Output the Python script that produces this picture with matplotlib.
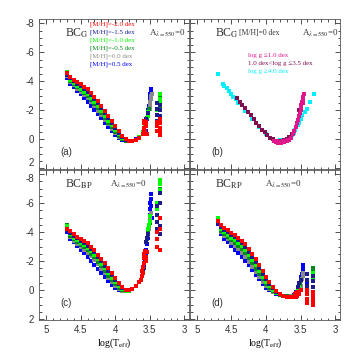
import matplotlib
matplotlib.use("Agg")
import matplotlib.pyplot as plt
from matplotlib.ticker import MultipleLocator, FormatStrFormatter

plt.rcParams['axes.unicode_minus'] = False
plt.rcParams['mathtext.fontset'] = 'stix'
plt.rcParams['font.family'] = ['Liberation Sans', 'DejaVu Sans']

# shared logTeff grid for the hot branch
logT_hot = [4.70, 4.65, 4.60, 4.55, 4.50, 4.45, 4.40, 4.35, 4.30, 4.25, 4.20, 4.15,
            4.10, 4.05, 4.00, 3.95, 3.90, 3.85, 3.80, 3.75, 3.70, 3.65, 3.60]

metLabels = ['[M/H]=-2.0 dex', '[M/H]=-1.5 dex', '[M/H]=-1.0 dex',
             '[M/H]=-0.5 dex', '[M/H]=0.0 dex', '[M/H]=0.5 dex']
metColors = ['#ff0000', '#1c1c8c', '#00ff00', '#00881a', '#8a8a8a', '#0000ff']

# ---- panel (a): BC_G
gHot_m20 = [-4.55, -4.30, -4.12, -3.95, -3.80, -3.62, -3.45, -3.22, -2.95, -2.62, -2.28, -1.95,
            -1.60, -1.25, -0.90, -0.55, -0.25, 0.00, 0.12, 0.12, 0.05, -0.10, -0.35]
gHot_m15 = [-4.45, -4.20, -4.00, -3.82, -3.66, -3.48, -3.30, -3.07, -2.80, -2.48, -2.15, -1.82,
            -1.48, -1.14, -0.80, -0.47, -0.19, 0.03, 0.12, 0.11, 0.04, -0.12, -0.40]
gHot_m10 = [-4.65, -4.10, -3.88, -3.68, -3.50, -3.30, -3.10, -2.86, -2.58, -2.27, -1.95, -1.62,
            -1.30, -0.97, -0.65, -0.35, -0.10, 0.07, 0.13, 0.11, 0.03, -0.14, -0.45]
gHot_m05 = [-4.60, -4.02, -3.80, -3.58, -3.38, -3.18, -2.97, -2.72, -2.44, -2.13, -1.81, -1.48,
            -1.16, -0.84, -0.54, -0.26, -0.04, 0.10, 0.13, 0.10, 0.02, -0.15, -0.48]
gHot_p00 = [-4.40, -3.95, -3.72, -3.49, -3.27, -3.05, -2.84, -2.58, -2.30, -1.99, -1.67, -1.35,
            -1.03, -0.72, -0.44, -0.19, 0.00, 0.11, 0.13, 0.09, 0.01, -0.16, -0.50]
gHot_p05 = [-4.20, -3.85, -3.60, -3.35, -3.10, -2.85, -2.60, -2.32, -2.05, -1.75, -1.45, -1.15,
            -0.85, -0.55, -0.30, -0.10, 0.05, 0.12, 0.12, 0.08, 0.00, -0.17, -0.52]

gTailT_m20 = [3.59, 3.59, 3.58, 3.58, 3.57, 3.56, 3.55, 3.54, 3.40, 3.40, 3.40, 3.35, 3.35, 3.35, 3.35, 3.35]
gTailBC_m20 = [-0.5, -0.8, -1.1, -1.3, -0.6, -0.9, -1.2, -0.4, -1.2, -0.9, -0.6, -1.4, -1.1, -0.8, -0.5, -0.3]
gTailT_m15 = [3.58, 3.56, 3.55, 3.53, 3.40, 3.40, 3.40, 3.40, 3.35, 3.35, 3.35, 3.35, 3.35]
gTailBC_m15 = [-0.8, -1.1, -1.4, -1.8, -2.5, -2.1, -1.7, -1.3, -2.4, -2.0, -1.6, -1.2, -0.8]
gTailT_m10 = [3.57, 3.55, 3.53, 3.52, 3.35, 3.35, 3.35, 3.40]
gTailBC_m10 = [-1.0, -1.3, -1.6, -1.9, -2.5, -2.8, -3.1, -2.0]
gTailT_m05 = [3.54, 3.51, 3.35, 3.35, 3.40]
gTailBC_m05 = [-1.5, -2.1, -2.3, -2.9, -1.7]
gTailT_p00 = [3.50, 3.49, 3.49, 3.48, 3.48, 3.47]
gTailBC_p00 = [-2.1, -2.4, -2.6, -2.8, -3.0, -3.1]
gTailT_p05 = [3.56, 3.56, 3.55, 3.54, 3.53, 3.52, 3.51, 3.50, 3.50, 3.49, 3.49, 3.48, 3.48, 3.49]
gTailBC_p05 = [-0.6, -0.9, -1.2, -1.4, -1.7, -2.0, -2.3, -2.5, -2.7, -2.9, -3.1, -3.3, -3.45, -2.2]

# ---- panel (c): BC_BP
bpHot_m20 = [-4.25, -4.05, -3.85, -3.70, -3.55, -3.40, -3.22, -3.00, -2.75, -2.45, -2.15, -1.85,
             -1.50, -1.18, -0.85, -0.52, -0.22, -0.02, 0.00, -0.10, -0.28, -0.55, -1.20]
bpHot_m15 = [-4.15, -3.95, -3.73, -3.57, -3.41, -3.25, -3.07, -2.85, -2.60, -2.30, -2.00, -1.69,
             -1.35, -1.03, -0.71, -0.41, -0.14, 0.02, 0.02, -0.09, -0.28, -0.56, -1.25]
bpHot_m10 = [-4.45, -3.85, -3.62, -3.44, -3.27, -3.10, -2.91, -2.68, -2.42, -2.12, -1.81, -1.50,
             -1.16, -0.85, -0.55, -0.28, -0.05, 0.05, 0.04, -0.08, -0.28, -0.57, -1.30]
bpHot_m05 = [-4.50, -3.75, -3.52, -3.32, -3.14, -2.96, -2.76, -2.52, -2.26, -1.96, -1.65, -1.34,
             -1.00, -0.70, -0.42, -0.18, 0.01, 0.07, 0.05, -0.08, -0.28, -0.58, -1.35]
bpHot_p00 = [-4.25, -3.65, -3.42, -3.20, -3.00, -2.80, -2.58, -2.33, -2.07, -1.78, -1.47, -1.16,
             -0.84, -0.55, -0.30, -0.09, 0.05, 0.08, 0.06, -0.07, -0.28, -0.58, -1.40]
bpHot_p05 = [-4.00, -3.55, -3.30, -3.05, -2.80, -2.55, -2.30, -2.02, -1.75, -1.47, -1.18, -0.90,
             -0.62, -0.35, -0.12, 0.02, 0.08, 0.08, 0.05, -0.08, -0.28, -0.58, -1.45]

bpTailT_m20 = [3.62, 3.61, 3.61, 3.60, 3.59, 3.59, 3.58, 3.57, 3.56, 3.55, 3.54, 3.40, 3.40, 3.40, 3.35, 3.35, 3.35]
bpTailBC_m20 = [-0.7, -1.0, -1.3, -1.6, -1.9, -2.2, -2.5, -2.7, -2.3, -2.0, -2.6, -4.0, -3.5, -3.0, -5.0, -4.2, -2.8]
bpTailT_m15 = [3.58, 3.56, 3.55, 3.54, 3.53, 3.40, 3.40, 3.40, 3.40, 3.35, 3.35, 3.35, 3.35, 3.35]
bpTailBC_m15 = [-1.5, -2.0, -3.3, -3.6, -3.9, -5.8, -5.2, -4.7, -4.2, -6.7, -6.0, -5.0, -4.4, -3.9]
bpTailT_m10 = [3.55, 3.54, 3.53, 3.52, 3.51, 3.50, 3.49, 3.40, 3.40, 3.35, 3.35, 3.35]
bpTailBC_m10 = [-3.3, -3.6, -3.9, -4.2, -4.5, -4.8, -5.1, -5.6, -6.0, -6.9, -7.3, -7.6]
bpTailT_m05 = [3.54, 3.52, 3.50, 3.35, 3.35, 3.40]
bpTailBC_m05 = [-3.5, -4.0, -4.6, -7.0, -7.5, -5.8]
bpTailT_p00 = [3.52, 3.51, 3.50, 3.49, 3.48]
bpTailBC_p00 = [-3.8, -4.2, -4.6, -5.0, -5.3]
bpTailT_p05 = [3.58, 3.57, 3.56, 3.55, 3.54, 3.53, 3.52, 3.51, 3.50, 3.50, 3.49, 3.49, 3.48, 3.48, 3.48, 3.47]
bpTailBC_p05 = [-1.6, -2.0, -2.4, -2.8, -3.2, -3.6, -4.0, -4.4, -4.8, -5.2, -5.6, -6.0, -6.3, -6.6, -5.8, -5.0]

# ---- panel (d): BC_RP
rpHot_m20 = [-4.75, -4.50, -4.30, -4.12, -3.95, -3.80, -3.62, -3.40, -3.15, -2.85, -2.50, -2.12,
             -1.72, -1.32, -0.92, -0.55, -0.22, 0.05, 0.25, 0.38, 0.45, 0.50, 0.50]
rpHot_m15 = [-4.65, -4.38, -4.17, -3.98, -3.80, -3.64, -3.45, -3.22, -2.96, -2.65, -2.30, -1.92,
             -1.53, -1.14, -0.76, -0.42, -0.12, 0.11, 0.28, 0.39, 0.45, 0.49, 0.48]
rpHot_m10 = [-4.95, -4.25, -4.03, -3.82, -3.63, -3.46, -3.26, -3.02, -2.75, -2.44, -2.08, -1.71,
             -1.32, -0.94, -0.58, -0.27, -0.01, 0.17, 0.30, 0.39, 0.44, 0.47, 0.45]
rpHot_m05 = [-5.00, -4.10, -3.88, -3.66, -3.46, -3.27, -3.06, -2.81, -2.53, -2.21, -1.85, -1.48,
             -1.10, -0.74, -0.41, -0.14, 0.07, 0.21, 0.31, 0.39, 0.43, 0.45, 0.42]
rpHot_p00 = [-4.80, -3.98, -3.72, -3.50, -3.28, -3.06, -2.83, -2.57, -2.28, -1.96, -1.62, -1.27,
             -0.92, -0.58, -0.29, -0.05, 0.12, 0.23, 0.32, 0.38, 0.42, 0.43, 0.38]
rpHot_p05 = [-4.55, -3.85, -3.55, -3.30, -3.05, -2.80, -2.55, -2.28, -2.00, -1.70, -1.38, -1.05,
             -0.75, -0.45, -0.18, 0.02, 0.15, 0.25, 0.32, 0.38, 0.42, 0.42, 0.35]

rpTailT_m20 = [3.60, 3.58, 3.57, 3.56, 3.55, 3.54, 3.52, 3.50, 3.40, 3.40, 3.40, 3.40, 3.32, 3.32, 3.32, 3.32, 3.32]
rpTailBC_m20 = [0.5, 0.3, 0.5, 0.2, 0.4, 0.1, 0.3, 0.0, 0.0, 0.3, 0.6, 0.9, 0.1, 0.4, 0.6, 0.8, 1.0]
rpTailT_m15 = [3.56, 3.54, 3.52, 3.50, 3.40, 3.40, 3.40, 3.32, 3.32, 3.32, 3.32]
rpTailBC_m15 = [0.1, -0.2, -0.5, -0.7, -1.1, -0.7, -0.3, -1.0, -0.6, -0.2, 0.2]
rpTailT_m10 = [3.56, 3.54, 3.52, 3.40, 3.40, 3.32, 3.32, 3.32]
rpTailBC_m10 = [0.2, 0.0, -0.3, -0.2, 0.1, -1.2, -0.7, -0.2]
rpTailT_m05 = [3.53, 3.51, 3.32, 3.32]
rpTailBC_m05 = [-0.1, -0.4, -1.5, -1.3]
rpTailT_p00 = [3.50, 3.49, 3.48, 3.47, 3.47]
rpTailBC_p00 = [-0.3, -0.6, -0.8, -1.0, -1.2]
rpTailT_p05 = [3.57, 3.55, 3.53, 3.51, 3.50, 3.49, 3.48, 3.47, 3.46, 3.46, 3.40]
rpTailBC_p05 = [0.3, 0.1, -0.1, -0.3, -0.6, -0.9, -1.1, -1.3, -1.5, -1.7, -0.4]

# ---- panel (b): BC_G at [M/H]=0 split by log g
loggLabels = ['log g ≤1.0 dex', '1.0 dex<log g ≤3.5 dex', 'log g ≥4.0 dex']
loggColors = ['#e0168c', '#80104f', '#00f0ff']

hiT = [4.69, 4.62, 4.60, 4.57, 4.54, 4.50, 4.47, 4.44, 4.40, 4.30, 4.20, 4.10, 4.00, 3.90, 3.80, 3.70,
       3.62, 3.60, 3.58, 3.56, 3.54, 3.52, 3.50, 3.48, 3.44, 3.41, 3.36, 3.31]
hiBC = [-4.5, -3.8, -3.7, -3.55, -3.35, -3.1, -2.95, -2.75, -2.5, -1.98, -1.42, -0.86, -0.38, -0.03, 0.07, 0.02,
        -0.3, -0.46, -0.65, -0.85, -1.0, -1.15, -1.4, -1.7, -1.9, -2.07, -2.6, -3.1]
midT = [4.42, 4.38, 4.34, 4.30, 4.26, 4.22, 4.18, 4.14, 4.10, 4.06, 4.02, 3.98, 3.94, 3.90, 3.86,
        3.82, 3.78, 3.74, 3.70, 3.66, 3.62, 3.52, 3.50]
midBC = [-2.85, -2.6, -2.38, -2.15, -1.92, -1.66, -1.4, -1.15, -0.9, -0.68, -0.48, -0.3, -0.12, 0.0, 0.08,
         0.1, 0.08, 0.03, -0.05, -0.18, -0.35, -2.0, -2.4]
loT = [3.88, 3.84, 3.80, 3.76, 3.72, 3.68, 3.64, 3.61, 3.59, 3.57, 3.55, 3.54, 3.52, 3.51, 3.50, 3.49,
       3.48, 3.47, 3.46, 3.45, 3.47, 3.49, 3.86, 3.82, 3.78, 3.74, 3.70, 3.66]
loBC = [0.08, 0.14, 0.16, 0.14, 0.1, 0.03, -0.08, -0.35, -0.6, -0.85, -1.1, -1.35, -1.6, -1.85, -2.1, -2.35,
        -2.55, -2.75, -2.95, -3.1, -2.5, -2.0, 0.18, 0.22, 0.22, 0.18, 0.12, 0.02]

serif = ['Liberation Serif', 'DejaVu Serif']


def styleAxes(ax, showX, showY):
    ax.set_xlim(5.1, 2.93)
    ax.set_ylim(2.05, -8.3)
    ax.xaxis.set_major_locator(MultipleLocator(0.5))
    ax.xaxis.set_minor_locator(MultipleLocator(0.1))
    ax.yaxis.set_major_locator(MultipleLocator(2))
    ax.yaxis.set_minor_locator(MultipleLocator(0.5))
    ax.xaxis.set_major_formatter(FormatStrFormatter('%g'))
    ax.yaxis.set_major_formatter(FormatStrFormatter('%g'))
    ax.tick_params(which='both', direction='in', top=True, right=True, labelsize=7,
                   width=0.6, colors='#333333')
    ax.tick_params(which='major', length=3.5)
    ax.tick_params(which='minor', length=1.8)
    for s in ax.spines.values():
        s.set_linewidth(0.6)
        s.set_color('#555555')
    if not showX:
        ax.set_xticklabels([])
    else:
        ax.set_xlabel('log(T$_{\\rm eff}$)', fontsize=7, family=serif, labelpad=1)
    if not showY:
        ax.set_yticklabels([])


def drawMetals(ax, hotList, tailTList, tailBCList):
    # draw most metal rich first so the metal poor band sits on top
    for i in reversed(range(len(hotList))):
        ax.plot(logT_hot, hotList[i], 's', color=metColors[i], ms=3.1, mew=0)
        ax.plot(tailTList[i], tailBCList[i], 's', color=metColors[i], ms=2.3, mew=0)


def labelPanel(ax, name, extinctionX, tag):
    ax.text(0.17, 0.905, name, transform=ax.transAxes, fontsize=8.5, family=serif,
            color='#333333', va='center')
    ax.text(extinctionX, 0.905, 'A$_{\\lambda=550}$=0', transform=ax.transAxes, fontsize=6.5,
            family=serif, color='#333333', va='center')
    ax.text(0.14, 0.115, tag, transform=ax.transAxes, fontsize=7, color='#333333', va='center')


fig = plt.figure(figsize=(3.59, 3.59), dpi=100)
axA = fig.add_axes([0.109, 0.529, 0.418, 0.418])
axB = fig.add_axes([0.529, 0.529, 0.418, 0.418])
axC = fig.add_axes([0.109, 0.109, 0.418, 0.418])
axD = fig.add_axes([0.529, 0.109, 0.418, 0.418])

drawMetals(axA, [gHot_m20, gHot_m15, gHot_m10, gHot_m05, gHot_p00, gHot_p05],
           [gTailT_m20, gTailT_m15, gTailT_m10, gTailT_m05, gTailT_p00, gTailT_p05],
           [gTailBC_m20, gTailBC_m15, gTailBC_m10, gTailBC_m05, gTailBC_p00, gTailBC_p05])
drawMetals(axC, [bpHot_m20, bpHot_m15, bpHot_m10, bpHot_m05, bpHot_p00, bpHot_p05],
           [bpTailT_m20, bpTailT_m15, bpTailT_m10, bpTailT_m05, bpTailT_p00, bpTailT_p05],
           [bpTailBC_m20, bpTailBC_m15, bpTailBC_m10, bpTailBC_m05, bpTailBC_p00, bpTailBC_p05])
drawMetals(axD, [rpHot_m20, rpHot_m15, rpHot_m10, rpHot_m05, rpHot_p00, rpHot_p05],
           [rpTailT_m20, rpTailT_m15, rpTailT_m10, rpTailT_m05, rpTailT_p00, rpTailT_p05],
           [rpTailBC_m20, rpTailBC_m15, rpTailBC_m10, rpTailBC_m05, rpTailBC_p00, rpTailBC_p05])

axB.plot(hiT, hiBC, 's', color=loggColors[2], ms=2.4, mew=0)
axB.plot(midT, midBC, 's', color=loggColors[1], ms=2.4, mew=0)
axB.plot(loT, loBC, 's', color=loggColors[0], ms=2.4, mew=0)

styleAxes(axA, False, True)
styleAxes(axB, False, False)
styleAxes(axC, True, True)
styleAxes(axD, True, False)

labelPanel(axA, 'BC$_{\\rm G}$', 0.73, '(a)')
labelPanel(axB, 'BC$_{\\rm G}$', 0.75, '(b)')
labelPanel(axC, 'BC$_{\\rm BP}$', 0.47, '(c)')
labelPanel(axD, 'BC$_{\\rm RP}$', 0.5, '(d)')

for i, lab in enumerate(metLabels):
    axA.text(0.34, 0.965 - i * 0.053, lab, transform=axA.transAxes, fontsize=5,
             family=serif, color=metColors[i], va='center')

axB.text(0.33, 0.905, '[M/H]=0 dex', transform=axB.transAxes, fontsize=5.5, family=serif,
         color='#333333', va='center')
for i, lab in enumerate(loggLabels):
    axB.text(0.385, 0.755 - i * 0.052, lab, transform=axB.transAxes, fontsize=5,
             family=serif, color=loggColors[i], va='center')

# the "2" of panel (a) and the "-8" of panel (c) meet at the seam; nudge them apart
fig.canvas.draw()
for lbl in axA.get_yticklabels():
    if lbl.get_text() == '2':
        lbl.set_va('bottom')
for lbl in axC.get_yticklabels():
    if lbl.get_text() == '-8':
        lbl.set_va('top')

fig.savefig('out.png', dpi=100)
